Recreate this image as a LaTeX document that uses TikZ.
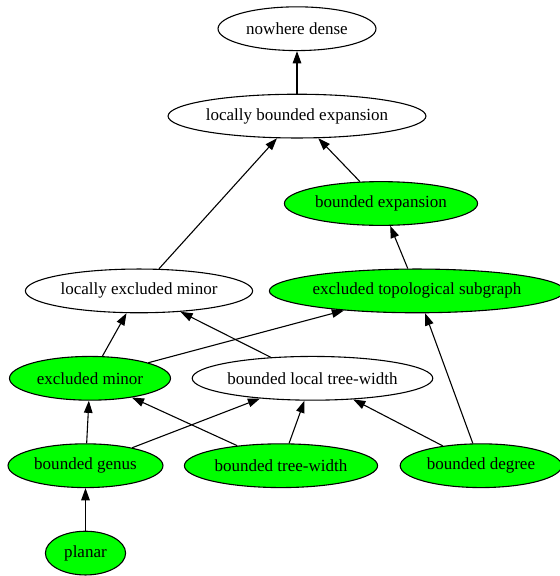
\documentclass[tikz,border=0pt]{standalone}
\usepackage{fontspec}
\setmainfont{Liberation Serif}
\usetikzlibrary{shapes.geometric,arrows.meta}
\begin{document}
\begin{tikzpicture}[x=0.823pt,y=-0.823pt,
  gnode/.style={ellipse,draw=black,line width=0.9pt,inner sep=0pt,minimum height=36pt,
                font=\fontsize{14pt}{16pt}\selectfont},
  grn/.style={gnode,fill=green},
  wht/.style={gnode,fill=white},
  edge/.style={draw=black,line width=0.9pt,-{Triangle[length=10pt,width=7pt]}}]
\useasboundingbox (0,0) rectangle (560,576);

\node[wht,minimum width=130pt]   (nd)  at (297,28.7)   {nowhere dense};
\node[wht,minimum width=211pt]   (lbe) at (297,116.1)  {locally bounded expansion};
\node[grn,minimum width=159pt]   (be)  at (381,203.5)  {bounded expansion};
\node[grn,minimum width=235pt]   (ets) at (417,290.9)  {excluded topological subgraph};
\node[wht,minimum width=187pt]   (lem) at (139,290.9)  {locally excluded minor};
\node[grn,minimum width=132.5pt] (em)  at (90,378.3)   {excluded minor};
\node[wht,minimum width=198pt]   (blt) at (312.5,378.3){bounded local tree-width};
\node[grn,minimum width=127.5pt] (bg)  at (85.5,465.7) {bounded genus};
\node[grn,minimum width=159pt]   (btw) at (281,465.7)  {bounded tree-width};
\node[grn,minimum width=133pt]   (bd)  at (481,465.7)  {bounded degree};
\node[grn,minimum width=66pt]    (pl)  at (85.5,553.1) {planar};

\draw[edge] (lbe) -- (nd);
\draw[edge] (be) -- (lbe);
\draw[edge] (lem) -- (lbe);
\draw[edge] (ets) -- (be);
\draw[edge] (em) -- (lem);
\draw[edge] (blt) -- (lem);
\draw[edge] (em) -- (ets);
\draw[edge] (bg) -- (em);
\draw[edge] (bg) -- (blt);
\draw[edge] (btw) -- (em);
\draw[edge] (btw) -- (blt);
\draw[edge] (bd) -- (blt);
\draw[edge] (bd) -- (ets);
\draw[edge] (pl) -- (bg);
\end{tikzpicture}
\end{document}
